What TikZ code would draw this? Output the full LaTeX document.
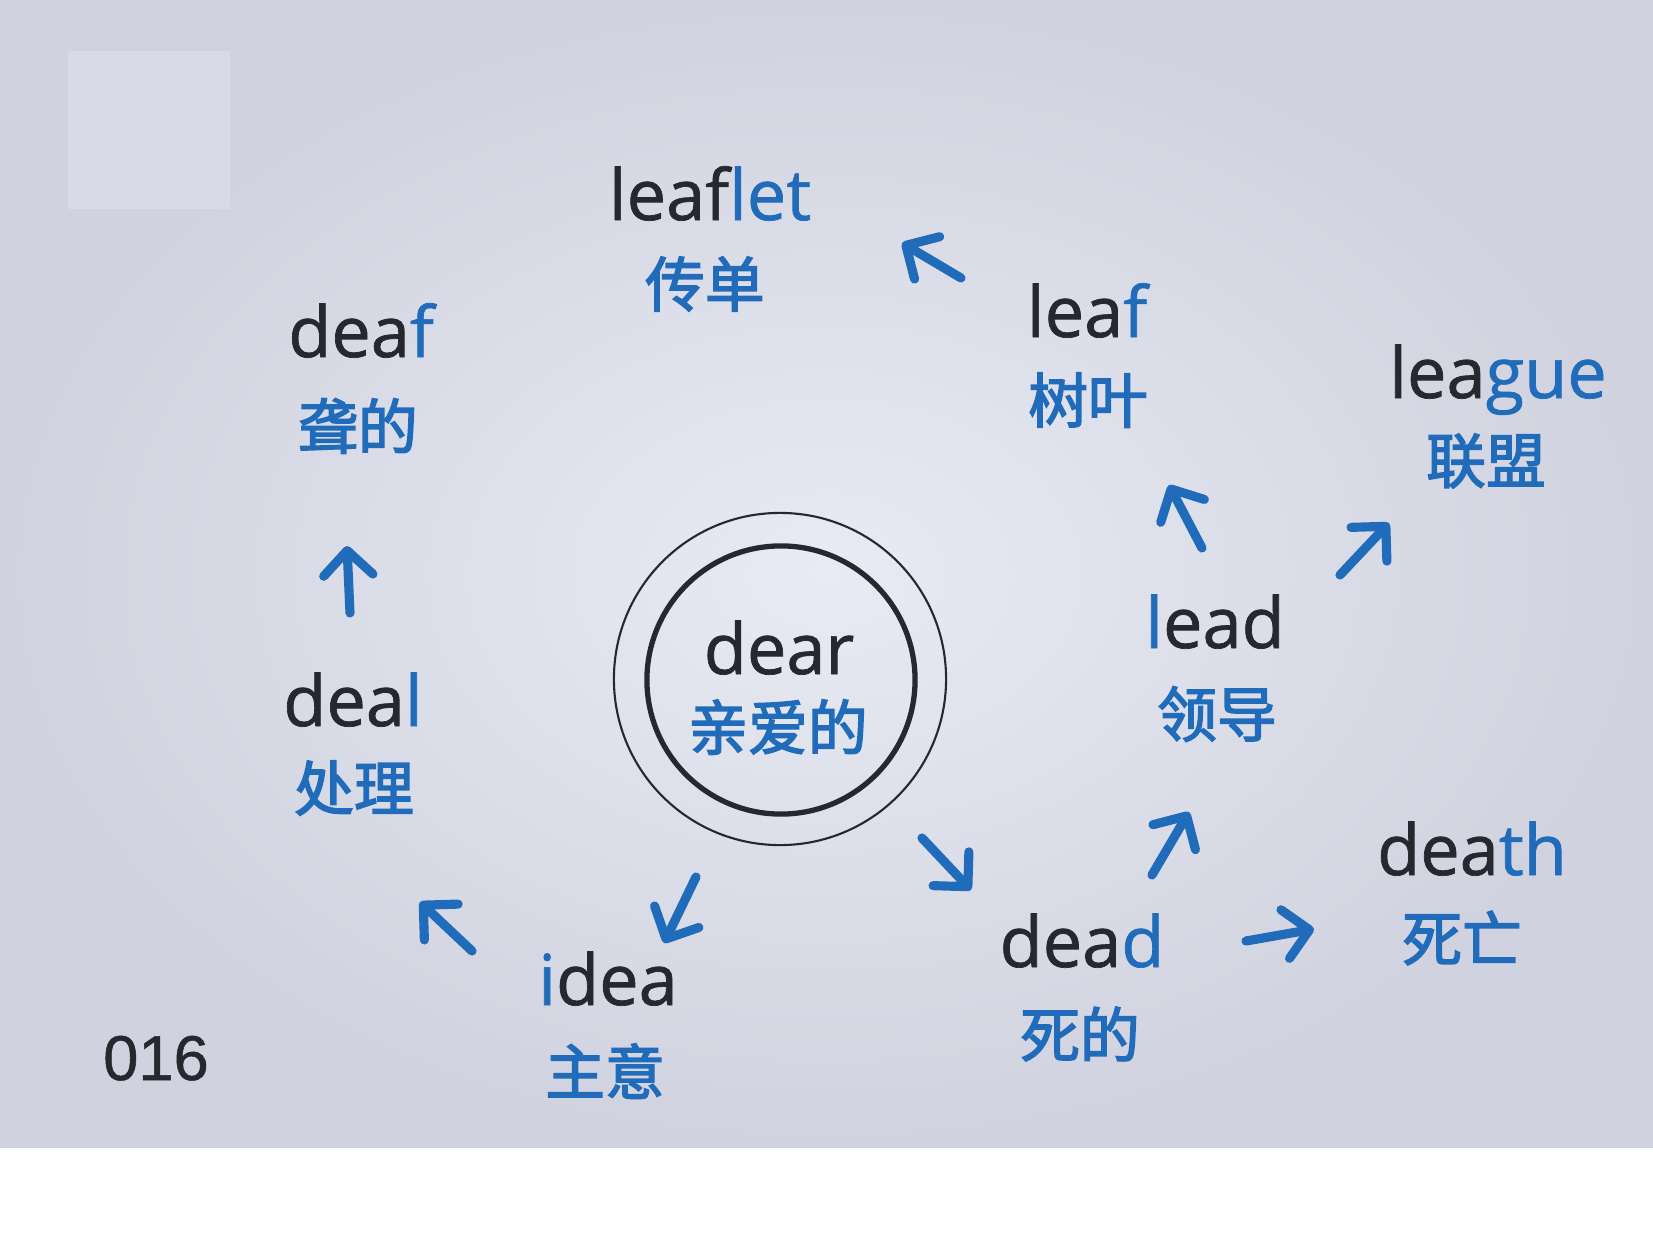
\documentclass[tikz,border=0pt]{standalone}
\usepackage{fontspec}
\setmainfont{Open Sans}[FakeBold=1]
\newfontfamily\cjk{Noto Sans CJK SC}[FakeBold=2.5]
\newfontfamily\numfont{Liberation Sans}[FakeBold=0.8]
\usetikzlibrary{arrows.meta}
\definecolor{ink}{RGB}{38,40,48}
\definecolor{blu}{RGB}{32,108,186}
\definecolor{bgin}{RGB}{232,235,243}
\definecolor{bgout}{RGB}{208,210,223}
\definecolor{sqc}{RGB}{218,217,232}
\begin{document}
\begin{tikzpicture}[x=0.01cm,y=-0.01cm,
  en/.style={font=\fontsize{20}{24}\selectfont, text=ink, inner sep=0, anchor=base},
  zh/.style={font=\cjk\fontsize{17}{20}\selectfont, text=blu, inner sep=0, anchor=center},
  arr/.style={draw=blu, line width=2.6pt, line cap=round,
    -{Straight Barb[length=7pt,width=14pt,round]}}]
\useasboundingbox (0,0) rectangle (1653,1239);
\fill[inner color=bgin, outer color=bgout] (0,0) rectangle (1653,1148);
\fill[white] (0,1148) rectangle (1653,1239);
\fill[sqc] (68,51) rectangle (230,209);

% central circles
\node[circle, draw=ink, line width=0.6pt, minimum size=3.32cm, inner sep=0] (outerc) at (780,679) {};
\node[circle, draw=ink, line width=1.5pt, minimum size=2.68cm, inner sep=0] (innerc) at (781,680) {};

% words
\node[en] (dear) at (779,674) {dear};
\node[zh] (zdear) at (778,727) {亲爱的};
\node[en] (leaflet) at (710,220) {leaf\textcolor{blu}{let}};
\node[zh] (zleaflet) at (705,284) {传单};
\node[en] (leaf) at (1087,337) {lea\textcolor{blu}{f}};
\node[zh] (zleaf) at (1088,400) {树叶};
\node[en] (league) at (1498,398) {lea\textcolor{blu}{gue}};
\node[zh] (zleague) at (1486,461) {联盟};
\node[en] (deaf) at (361,357) {dea\textcolor{blu}{f}};
\node[zh] (zdeaf) at (358,426) {聋的};
\node[en] (deal) at (353,726) {dea\textcolor{blu}{l}};
\node[zh] (zdeal) at (354,788) {处理};
\node[en] (lead) at (1215,648) {\textcolor{blu}{l}ead};
\node[zh] (zlead) at (1217,714) {领导};
\node[en] (idea) at (608,1005) {\textcolor{blu}{i}dea};
\node[zh] (zidea) at (605,1071) {主意};
\node[en] (dead) at (1082,967) {dea\textcolor{blu}{d}};
\node[zh] (zdead) at (1080,1034) {死的};
\node[en] (death) at (1472,875) {dea\textcolor{blu}{th}};
\node[zh] (zdeath) at (1462,938) {死亡};
\node[font=\numfont\fontsize{18}{20}\selectfont, text=ink, inner sep=0, anchor=base] (page) at (156,1080) {016};

% arrows
\coordinate (t1) at (961,278);  \coordinate (h1) at (902,243);
\coordinate (t2) at (1202,548); \coordinate (h2) at (1169,485);
\coordinate (t3) at (1340,575); \coordinate (h3) at (1389,523);
\coordinate (t4) at (1152,875); \coordinate (h4) at (1189,812);
\coordinate (t5) at (1246,941); \coordinate (h5) at (1314,929);
\coordinate (t6) at (922,838);  \coordinate (h6) at (971,890);
\coordinate (t7) at (696,877);  \coordinate (h7) at (664,943);
\coordinate (t8) at (472,951);  \coordinate (h8) at (420,902);
\coordinate (t9) at (350,613);  \coordinate (h9) at (347,546);
\draw[arr] (t1) -- (h1);
\draw[arr] (t2) -- (h2);
\draw[arr] (t3) -- (h3);
\draw[arr] (t4) -- (h4);
\draw[arr] (t5) -- (h5);
\draw[arr] (t6) -- (h6);
\draw[arr] (t7) -- (h7);
\draw[arr] (t8) -- (h8);
\draw[arr] (t9) -- (h9);
\end{tikzpicture}
\end{document}
